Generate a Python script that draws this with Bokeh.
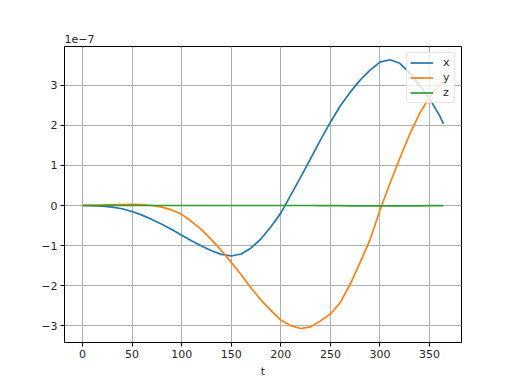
from bokeh.plotting import figure
from bokeh.models import FixedTicker, CustomJSTickFormatter, Range1d, Legend, LegendItem
from bokeh.embed import file_html
from bokeh.resources import INLINE

# time (days)
t = [0, 10, 20, 30, 40, 50, 60, 70, 80, 90, 100, 110, 120, 130, 140, 150, 160, 170,
     180, 190, 200, 210, 220, 230, 240, 250, 260, 270, 280, 290, 300, 310, 320, 330,
     340, 350, 360, 364]
# values in units of 1e-7
x_vals = [0.0, -0.003, -0.015, -0.04, -0.08, -0.15, -0.24, -0.35, -0.47, -0.60,
          -0.74, -0.88, -1.01, -1.13, -1.22, -1.26, -1.21, -1.06, -0.83, -0.53,
          -0.19, 0.26, 0.71, 1.17, 1.64, 2.08, 2.49, 2.83, 3.13, 3.38, 3.58, 3.64,
          3.55, 3.31, 3.00, 2.67, 2.25, 2.04]
y_vals = [0.0, 0.005, 0.01, 0.02, 0.025, 0.03, 0.02, 0.0, -0.04, -0.11, -0.22,
          -0.40, -0.60, -0.85, -1.12, -1.42, -1.73, -2.06, -2.36, -2.62, -2.86,
          -3.00, -3.07, -3.03, -2.88, -2.71, -2.42, -1.96, -1.42, -0.85, -0.12,
          0.55, 1.18, 1.78, 2.30, 2.71, 3.03, 3.14]
z_vals = [0.0, 0.0, 0.0, 0.0, 0.0, 0.0, 0.0, 0.0, 0.0, 0.0, 0.0, 0.0, 0.0, 0.0,
          0.0, 0.0, 0.0, 0.0, 0.0, 0.0, 0.0, 0.0, 0.0, 0.0, -0.005, -0.005,
          -0.005, -0.01, -0.01, -0.01, -0.01, -0.01, -0.01, -0.01, -0.01,
          -0.005, -0.005, -0.005]
x_ticks = [0, 50, 100, 150, 200, 250, 300, 350]
y_ticks = [-3, -2, -1, 0, 1, 2, 3]

FONT = "DejaVu Sans"
TXT = "#262626"

p = figure(width=512, height=384, output_backend="svg", toolbar_location=None,
           x_range=Range1d(-18.2, 382.2), y_range=Range1d(-3.42, 3.97))
p.min_border_left = 64
p.min_border_right = 51
p.min_border_top = 46
p.min_border_bottom = 42
p.background_fill_color = "white"
p.border_fill_color = "white"
p.outline_line_color = "black"
p.outline_line_width = 1

p.title.text = "1e\u22127"
p.title.text_font = FONT
p.title.text_font_size = "11px"
p.title.text_font_style = "normal"
p.title.text_color = TXT
p.title.align = "left"
p.title.standoff = 8

for ax in (p.xaxis[0], p.yaxis[0]):
    ax.major_label_text_font = FONT
    ax.major_label_text_font_size = "11px"
    ax.major_label_text_color = TXT
    ax.axis_line_color = None
    ax.major_tick_line_color = "black"
    ax.major_tick_out = 4
    ax.major_tick_in = 0
    ax.minor_tick_line_color = None
    ax.major_label_standoff = 3

p.xaxis[0].ticker = FixedTicker(ticks=x_ticks)
p.yaxis[0].ticker = FixedTicker(ticks=y_ticks)
fmt = CustomJSTickFormatter(code="""
    return tick < 0 ? "\\u2212" + Math.abs(tick).toString() : tick.toString();
""")
p.xaxis[0].formatter = fmt
p.yaxis[0].formatter = fmt
p.xaxis[0].axis_label = "t"
p.xaxis[0].axis_label_text_font = FONT
p.xaxis[0].axis_label_text_font_size = "11px"
p.xaxis[0].axis_label_text_font_style = "normal"
p.xaxis[0].axis_label_text_color = TXT
p.xaxis[0].axis_label_standoff = 4

p.grid.grid_line_color = "#b0b0b0"
p.grid.grid_line_width = 1

rx = p.line(t, x_vals, line_color="#1f77b4", line_width=1.7, line_join="round")
ry = p.line(t, y_vals, line_color="#ff7f0e", line_width=1.7, line_join="round")
rz = p.line(t, z_vals, line_color="#2ca02c", line_width=1.7, line_join="round")

legend = Legend(items=[LegendItem(label="x", renderers=[rx]),
                       LegendItem(label="y", renderers=[ry]),
                       LegendItem(label="z", renderers=[rz])],
                location="top_right")
legend.margin = 6
legend.padding = 3
legend.spacing = 2
legend.glyph_width = 23
legend.glyph_height = 13
legend.label_height = 13
legend.label_width = 8
legend.label_standoff = 10
legend.label_text_font = FONT
legend.label_text_font_size = "11px"
legend.label_text_color = TXT
legend.border_line_color = "#cccccc"
legend.border_line_width = 1
legend.background_fill_color = "white"
legend.background_fill_alpha = 0.8
legend.border_radius = 3
p.add_layout(legend, "center")

open("out.html", "w").write(file_html(p, INLINE))
